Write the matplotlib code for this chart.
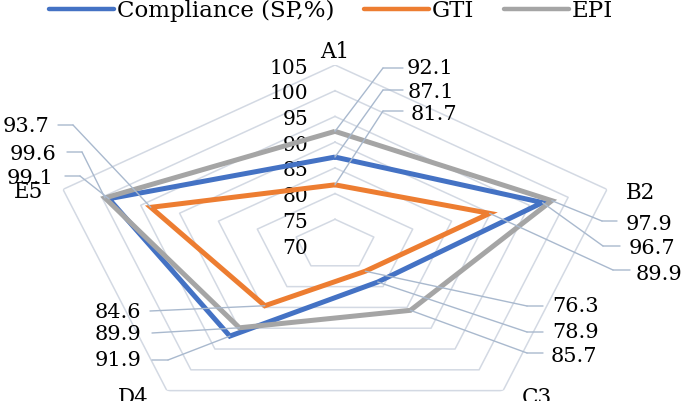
import numpy as np
import matplotlib
matplotlib.use("Agg")
import matplotlib.pyplot as plt
from matplotlib.lines import Line2D

plt.rcParams['font.family'] = ['DejaVu Serif', 'Liberation Serif']

# ---------------- data ----------------
categories = ['A1', 'B2', 'C3', 'D4', 'E5']
series_names = ['Compliance (SP,%)', 'GTI', 'EPI']
compliance = [87.1, 96.7, 78.9, 91.9, 99.1]
gti = [81.7, 89.9, 76.3, 84.6, 93.7]
epi = [92.1, 97.9, 85.7, 89.9, 99.6]
ring_ticks = [70, 75, 80, 85, 90, 95, 100, 105]

series = [compliance, gti, epi]
colors = ['#4472C4', '#ED7D31', '#A5A5A5']
grid_color = '#D3D9E3'
leader_color = '#A9B9CE'

W, H = 685, 401
fig = plt.figure(figsize=(W / 100, H / 100), dpi=100)
# polar axes stretched horizontally (center at ~(335,245) px from top-left)
ax = fig.add_axes([49 / W, (H - 425) / H, 572 / W, 360 / H], projection='polar')
ax.set_aspect('auto')
ax.set_theta_zero_location('N')
ax.set_theta_direction(-1)
ax.set_ylim(ring_ticks[0], ring_ticks[-1])
ax.set_xticks([])
ax.set_yticks([])
ax.grid(False)
ax.spines['polar'].set_visible(False)
ax.patch.set_alpha(0)

n = len(categories)
theta = np.linspace(0, 2 * np.pi, n, endpoint=False)
theta_c = np.append(theta, theta[0])

# polygon grid rings
for r in ring_ticks[1:]:
    ax.plot(theta_c, [r] * (n + 1), color=grid_color, lw=1.1, zorder=1)

# radial tick labels
for v in ring_ticks:
    ax.annotate(str(v), xy=(0, v), xytext=(-27, -3), textcoords='offset pixels',
                ha='right', va='center', fontsize=14.5, color='#000000')

# category labels
cat_offsets = [(0, 13), (34, -4), (34, -7), (-34, -7), (-34, -3)]
for i, c in enumerate(categories):
    ax.annotate(c, xy=(theta[i], ring_ticks[-1]), xytext=cat_offsets[i],
                textcoords='offset pixels', ha='center', va='center', fontsize=15.5)

# series lines
for vals, col in zip(series, colors):
    ax.plot(theta_c, list(vals) + [vals[0]], color=col, lw=3.6, zorder=3,
            solid_joinstyle='miter', solid_capstyle='butt')

# data label callouts: (series, category) -> text x, text y, ha, elbow, horizontal end
label_layout = {
    (2, 0): (407, 67, 'left', (383, 68), (403, 68)),
    (0, 0): (408, 91, 'left', (383, 90), (403, 90)),
    (1, 0): (411, 112, 'left', (383, 111), (403, 111)),
    (2, 1): (626, 222, 'left', (602, 221), (617, 221)),
    (0, 1): (629, 247, 'left', (603, 246), (620, 246)),
    (1, 1): (636, 272, 'left', (613, 270), (630, 270)),
    (1, 2): (552, 305, 'left', (527, 306), (543, 306)),
    (0, 2): (552, 331, 'left', (527, 332), (543, 332)),
    (2, 2): (551, 355, 'left', (527, 353), (543, 353)),
    (1, 3): (141, 311, 'right', (150, 311), (150, 311)),
    (2, 3): (141, 332, 'right', (152, 333), (152, 333)),
    (0, 3): (141, 359, 'right', (168, 360), (152, 360)),
    (1, 4): (49, 125, 'right', (73, 125), (58, 125)),
    (2, 4): (56, 152, 'right', (82, 152), (67, 152)),
    (0, 4): (53, 176, 'right', (80, 176), (65, 176)),
}

lp = dict(arrowstyle='-', color=leader_color, lw=1.0, shrinkA=0, shrinkB=0)
for (si, ci), (tx, ty, ha, elbow, hend) in label_layout.items():
    val = series[si][ci]
    ax.annotate('', xy=(theta[ci], val), xycoords='data',
                xytext=(elbow[0], H - elbow[1]), textcoords='figure pixels',
                arrowprops=lp, zorder=4)
    if elbow != hend:
        ax.annotate('', xy=(elbow[0], H - elbow[1]), xycoords='figure pixels',
                    xytext=(hend[0], H - hend[1]), textcoords='figure pixels',
                    arrowprops=lp, zorder=4)
    ax.annotate(f'{val:.1f}', xy=(tx, H - ty - 2), xycoords='figure pixels',
                ha=ha, va='center', fontsize=15, zorder=5)

# legend
handles = [Line2D([0], [0], color=c, lw=3.2, solid_capstyle='round') for c in colors]
fig.legend(handles, series_names, loc='center', bbox_to_anchor=(331 / W, 1 - 11 / H),
           ncol=3, frameon=False, fontsize=16.5, handlelength=2.85, handletextpad=0.12,
           columnspacing=1.3, borderpad=0, borderaxespad=0)

fig.savefig('out.png', dpi=100)
